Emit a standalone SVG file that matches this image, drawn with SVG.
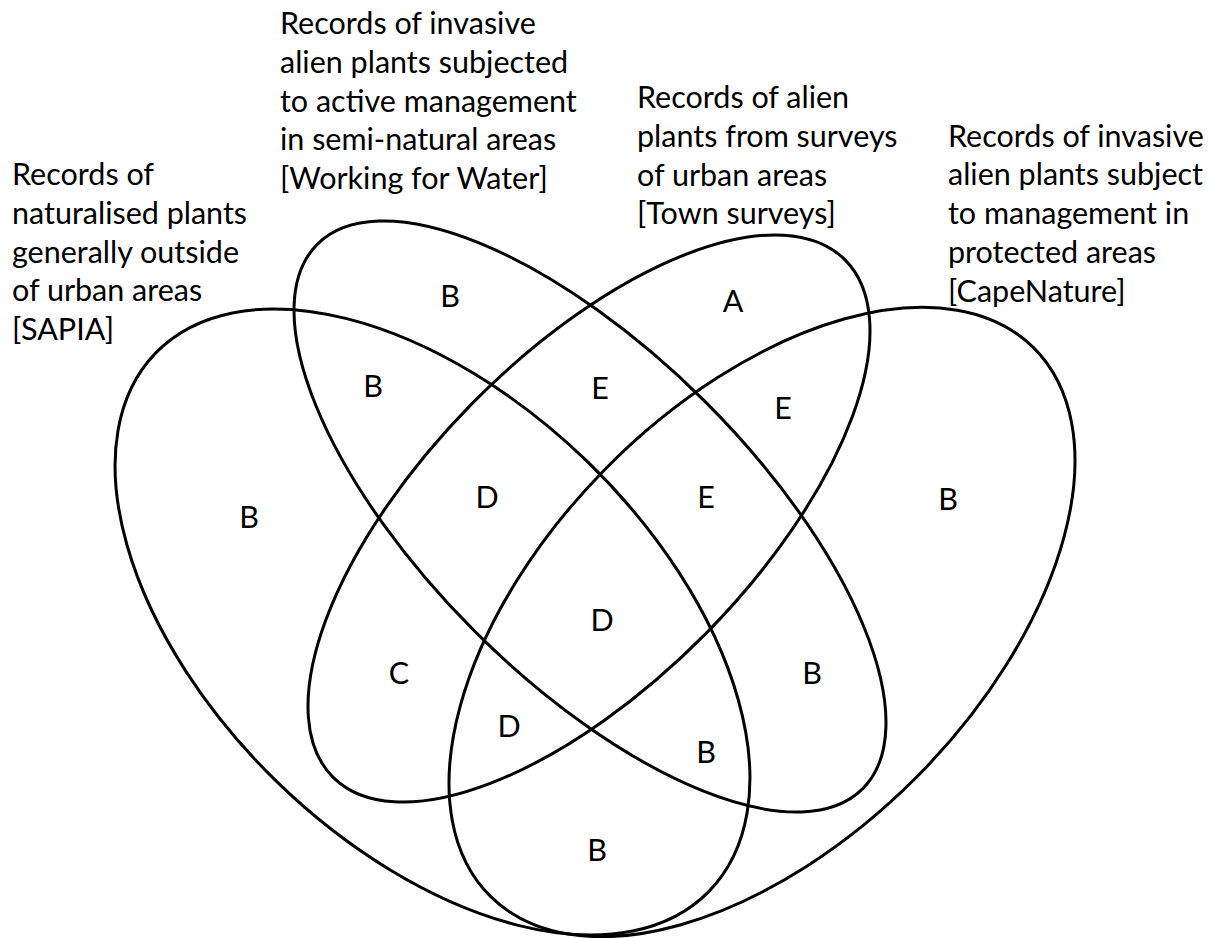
<svg xmlns="http://www.w3.org/2000/svg" width="1219" height="938" viewBox="0 0 1219 938">
<style>
.set{fill:none;stroke:#000;stroke-width:3}
.t{font-family:Lato,"Liberation Sans",sans-serif;font-size:30.5px;fill:#000}
.r{font-family:Lato,"Liberation Sans",sans-serif;font-size:30.5px;fill:#000;text-anchor:middle}
</style>
<rect width="1219" height="938" fill="#fff"/>
<g id="sets">
<ellipse id="sapia" class="set" cx="432.5" cy="622" rx="386" ry="223" transform="rotate(44.2 432.5 622)"/>
<ellipse id="capenature" class="set" cx="762" cy="622" rx="386" ry="219" transform="rotate(-45.3 762 622)"/>
<ellipse id="wfw" class="set" cx="590" cy="516.5" rx="385.3" ry="162.7" transform="rotate(44.93 590 516.5)"/>
<ellipse id="town" class="set" cx="589" cy="518.5" rx="364" ry="164" transform="rotate(-45.4 589 518.5)"/>
</g>
<g id="label-sapia" class="t">
<text x="12" y="185">Records of</text>
<text x="12" y="223.8">naturalised plants</text>
<text x="12" y="262.6">generally outside</text>
<text x="12" y="301.4">of urban areas</text>
<text x="12" y="340.2">[SAPIA]</text>
</g>
<g id="label-wfw" class="t">
<text x="280" y="34">Records of invasive</text>
<text x="280" y="72.8">alien plants subjected</text>
<text x="280" y="111.6">to active management</text>
<text x="280" y="150.4">in semi-natural areas</text>
<text x="280" y="189.2">[Working for Water]</text>
</g>
<g id="label-town" class="t">
<text x="637" y="108">Records of alien</text>
<text x="637" y="146.8">plants from surveys</text>
<text x="637" y="185.6">of urban areas</text>
<text x="637" y="224.4">[Town surveys]</text>
</g>
<g id="label-capenature" class="t">
<text x="948" y="146.5">Records of invasive</text>
<text x="948" y="185.3">alien plants subject</text>
<text x="948" y="224.1">to management in</text>
<text x="948" y="262.9">protected areas</text>
<text x="948" y="301.7">[CapeNature]</text>
</g>
<g id="regions" class="r">
<text x="450" y="307">B</text>
<text x="733" y="312">A</text>
<text x="373" y="397">B</text>
<text x="600" y="399">E</text>
<text x="783" y="419">E</text>
<text x="249" y="528">B</text>
<text x="487" y="508">D</text>
<text x="706" y="508">E</text>
<text x="948" y="510">B</text>
<text x="602" y="631">D</text>
<text x="399" y="684">C</text>
<text x="812" y="684">B</text>
<text x="509" y="737">D</text>
<text x="706" y="763">B</text>
<text x="597" y="861">B</text>
</g>
</svg>
